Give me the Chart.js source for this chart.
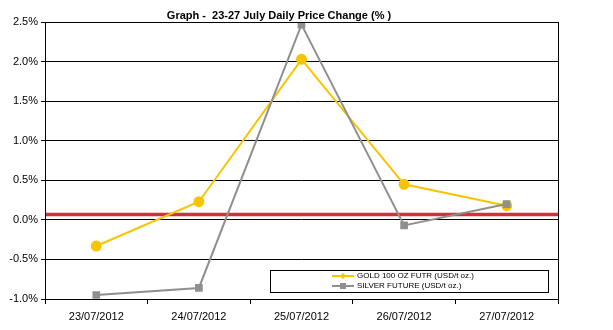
<!DOCTYPE html>
<html>
<head>
<meta charset="utf-8">
<script src="https://cdn.jsdelivr.net/npm/chart.js@4/dist/chart.umd.min.js"></script>
<style>
  html, body { margin: 0; padding: 0; background: #fff; }
  #wrap { width: 613px; height: 330px; }
</style>
</head>
<body>
<div id="wrap"><canvas id="priceChart"></canvas></div>
<script>
const dates = ['23/07/2012', '24/07/2012', '25/07/2012', '26/07/2012', '27/07/2012'];
const goldChange = [-0.33, 0.23, 2.03, 0.45, 0.18];
const silverChange = [-0.95, -0.86, 2.47, -0.07, 0.20];
const refLine = [0.07];
const seriesNames = ['GOLD 100 OZ FUTR (USD/t oz.)', 'SILVER FUTURE (USD/t oz.)'];

const goldColor = '#f7c500';
const silverColor = '#8f8f8f';

// red reference line under the series
const refPlugin = {
    id: 'refLine',
    beforeDatasetsDraw(chart) {
        const ctx = chart.ctx;
        const a = chart.chartArea;
        const y = chart.scales.y.getPixelForValue(refLine[0]);
        ctx.save();
        ctx.strokeStyle = '#d3303a';
        ctx.lineWidth = 3.5;
        ctx.beginPath();
        ctx.moveTo(a.left, y);
        ctx.lineTo(a.right, y);
        ctx.stroke();
        ctx.restore();
    }
};

// plot frame and the boxed legend
const extras = {
    id: 'extras',
    afterDatasetsDraw(chart) {
        const ctx = chart.ctx;
        const a = chart.chartArea;
        ctx.save();
        ctx.strokeStyle = '#000';
        ctx.lineWidth = 1;
        ctx.strokeRect(Math.round(a.left) + 0.5, Math.round(a.top) + 0.5,
            Math.round(a.right - a.left), Math.round(a.bottom - a.top));

        // legend box
        const bx = 270, by = 270, bw = 278, bh = 22;
        ctx.fillStyle = '#fff';
        ctx.fillRect(bx, by, bw, bh);
        ctx.strokeRect(bx + 0.5, by + 0.5, bw, bh);
        ctx.font = '8px "Liberation Sans", Arial, sans-serif';
        ctx.textBaseline = 'middle';
        const colors = [goldColor, silverColor];
        seriesNames.forEach((name, i) => {
            const ly = by + 6 + i * 10;
            const lx = 332;
            ctx.strokeStyle = colors[i];
            ctx.lineWidth = 2;
            ctx.beginPath();
            ctx.moveTo(lx, ly);
            ctx.lineTo(lx + 22, ly);
            ctx.stroke();
            ctx.fillStyle = colors[i];
            if (i === 0) {
                ctx.beginPath();
                ctx.moveTo(lx + 11, ly - 3);
                ctx.lineTo(lx + 14, ly);
                ctx.lineTo(lx + 11, ly + 3);
                ctx.lineTo(lx + 8, ly);
                ctx.closePath();
                ctx.fill();
            } else {
                ctx.fillRect(lx + 8, ly - 3, 6, 6);
            }
            ctx.fillStyle = '#000';
            ctx.fillText(name, lx + 25, ly);
        });
        ctx.restore();
    }
};

const priceChart = new Chart(document.getElementById('priceChart'), {
    type: 'line',
    data: {
        labels: dates,
        datasets: [
            {
                label: seriesNames[0],
                data: goldChange,
                borderColor: goldColor,
                backgroundColor: goldColor,
                borderWidth: 2,
                pointStyle: 'circle',
                pointRadius: 4.5,
                pointHoverRadius: 4.5,
                order: 1
            },
            {
                label: seriesNames[1],
                data: silverChange,
                borderColor: silverColor,
                backgroundColor: silverColor,
                borderWidth: 2,
                pointStyle: 'rect',
                pointRadius: 4,
                pointHoverRadius: 4,
                order: 0
            }
        ]
    },
    options: {
        responsive: true,
        maintainAspectRatio: false,
        animation: false,
        layout: { padding: { left: 0, right: 55, top: 0, bottom: 0 } },
        plugins: {
            legend: { display: false },
            tooltip: { enabled: false },
            title: {
                display: true,
                text: 'Graph -  23-27 July Daily Price Change (% )',
                color: '#000',
                font: { family: '"Liberation Sans", Arial, sans-serif', size: 11, weight: 'bold' },
                padding: { top: 9, bottom: 0 }
            }
        },
        scales: {
            x: {
                offset: true,
                grid: {
                    offset: true,
                    drawOnChartArea: false,
                    drawTicks: true,
                    tickLength: 5,
                    color: '#000'
                },
                border: { display: false },
                ticks: {
                    color: '#000',
                    maxRotation: 0,
                    padding: 6,
                    font: { family: '"Liberation Sans", Arial, sans-serif', size: 11 }
                },
                afterFit(scale) { scale.height = 31; }
            },
            y: {
                min: -1.0,
                max: 2.5,
                ticks: {
                    stepSize: 0.5,
                    color: '#000',
                    padding: 3,
                    font: { family: '"Liberation Sans", Arial, sans-serif', size: 11 },
                    callback: v => v.toFixed(1) + '%'
                },
                grid: {
                    color: '#000',
                    lineWidth: 1,
                    tickLength: 4
                },
                border: { display: false },
                afterFit(scale) { scale.width = 45; }
            }
        }
    },
    plugins: [refPlugin, extras]
});
</script>
</body>
</html>
